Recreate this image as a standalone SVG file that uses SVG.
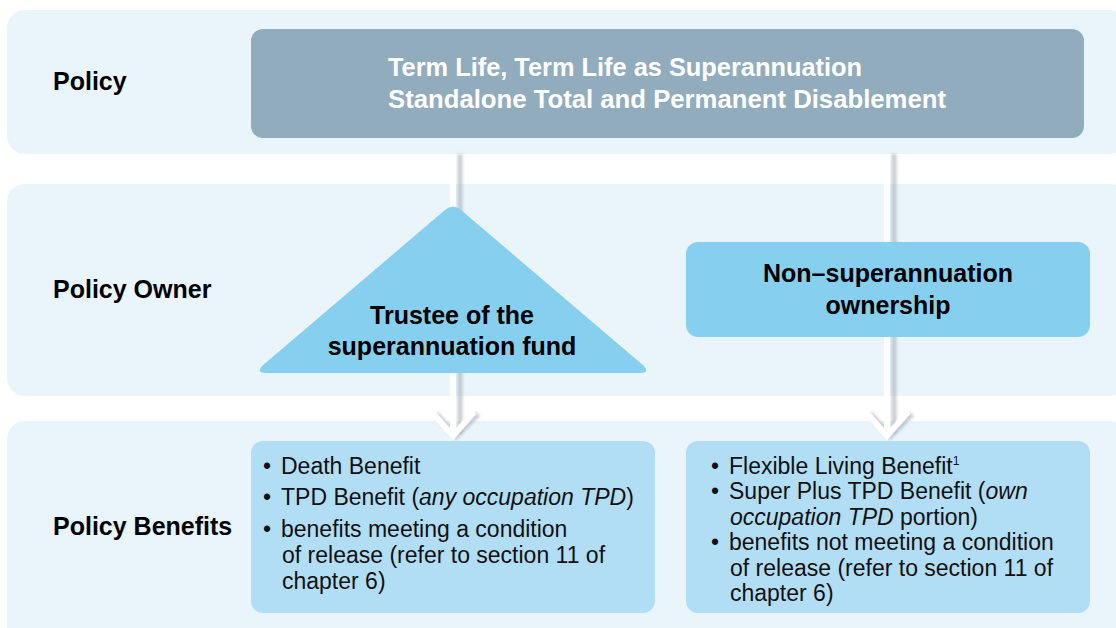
<svg xmlns="http://www.w3.org/2000/svg" width="1116" height="628" viewBox="0 0 1116 628">
<defs>
<style>
.band{fill:#e9f4fb}
.lbl{font-family:"Liberation Sans",Arial,sans-serif;font-weight:bold;font-size:25px;fill:#000}
.t{font-family:"Liberation Sans",Arial,sans-serif;font-size:23px;fill:#111}
.hd{font-family:"Liberation Sans",Arial,sans-serif;font-weight:bold;font-size:25px;fill:#000;text-anchor:middle}
.wh{font-family:"Liberation Sans",Arial,sans-serif;font-weight:bold;font-size:25px;fill:#fff}
.shadow{stroke:#9aa5ad;stroke-opacity:0.55}
.shaft{stroke:#fff}
</style>
<filter id="blur" x="-50%" y="-10%" width="200%" height="120%"><feGaussianBlur stdDeviation="1.5"/></filter>
</defs>
<g id="bands">
<rect class="band" x="7" y="10" width="1120" height="144" rx="18"/>
<rect class="band" x="7" y="184" width="1120" height="212" rx="18"/>
<rect class="band" x="7" y="421" width="1120" height="230" rx="18"/>
</g>
<g id="labels">
<text class="lbl" x="53" y="90">Policy</text>
<text class="lbl" x="53" y="298">Policy Owner</text>
<text class="lbl" x="53" y="535">Policy Benefits</text>
</g>
<g id="connectors">
<g filter="url(#blur)" class="shadow" fill="none">
<line x1="460" y1="154" x2="460" y2="434" stroke-width="5"/>
<polyline points="436,414 456,436 478,414" stroke-width="6"/>
<line x1="894" y1="154" x2="894" y2="434" stroke-width="5"/>
<polyline points="870,414 890,436 912,414" stroke-width="6"/>
</g>
<g class="shaft" fill="none">
<line x1="453" y1="154" x2="453" y2="436" stroke-width="6"/>
<polyline points="432,412 453,436 474,412" stroke-width="6"/>
<line x1="887" y1="154" x2="887" y2="436" stroke-width="6"/>
<polyline points="866,412 887,436 908,412" stroke-width="6"/>
</g>
</g>
<g id="policy">
<rect x="251" y="29" width="833" height="109" rx="12" fill="#91acbd"/>
<text class="wh" x="388" y="76" textLength="474" lengthAdjust="spacingAndGlyphs">Term Life, Term Life as Superannuation</text>
<text class="wh" x="388" y="108" textLength="558" lengthAdjust="spacingAndGlyphs">Standalone Total and Permanent Disablement</text>
</g>
<g id="trustee">
<path d="M445,210 Q453,203 461,210 L644,366 Q650,373 640,373 L266,373 Q256,373 262,366 Z" fill="#87cfee"/>
<text class="hd" x="452" y="324">Trustee of the</text>
<text class="hd" x="452" y="355">superannuation fund</text>
</g>
<g id="nonsuper">
<rect x="686" y="242" width="404" height="95" rx="12" fill="#87cfee"/>
<text class="hd" x="888" y="282">Non–superannuation</text>
<text class="hd" x="888" y="314">ownership</text>
</g>
<g id="benefits-left">
<rect x="251" y="441" width="404" height="172" rx="12" fill="#b2def5"/>
<text class="t" x="263" y="474">•</text>
<text class="t" x="281" y="474">Death Benefit</text>
<text class="t" x="263" y="505">•</text>
<text class="t" x="281" y="505">TPD Benefit (<tspan font-style="italic">any occupation TPD</tspan>)</text>
<text class="t" x="263" y="537">•</text>
<text class="t" x="281" y="537">benefits meeting a condition</text>
<text class="t" x="282" y="563">of release (refer to section 11 of</text>
<text class="t" x="282" y="589">chapter 6)</text>
</g>
<g id="benefits-right">
<rect x="686" y="441" width="404" height="172" rx="12" fill="#b2def5"/>
<text class="t" x="711" y="474">•</text>
<text class="t" x="729" y="474">Flexible Living Benefit<tspan font-size="12" dy="-9">1</tspan></text>
<text class="t" x="711" y="499">•</text>
<text class="t" x="729" y="499">Super Plus TPD Benefit (<tspan font-style="italic">own</tspan></text>
<text class="t" x="730" y="525"><tspan font-style="italic">occupation TPD</tspan> portion)</text>
<text class="t" x="711" y="550">•</text>
<text class="t" x="729" y="550">benefits not meeting a condition</text>
<text class="t" x="730" y="576">of release (refer to section 11 of</text>
<text class="t" x="730" y="601">chapter 6)</text>
</g>
</svg>
